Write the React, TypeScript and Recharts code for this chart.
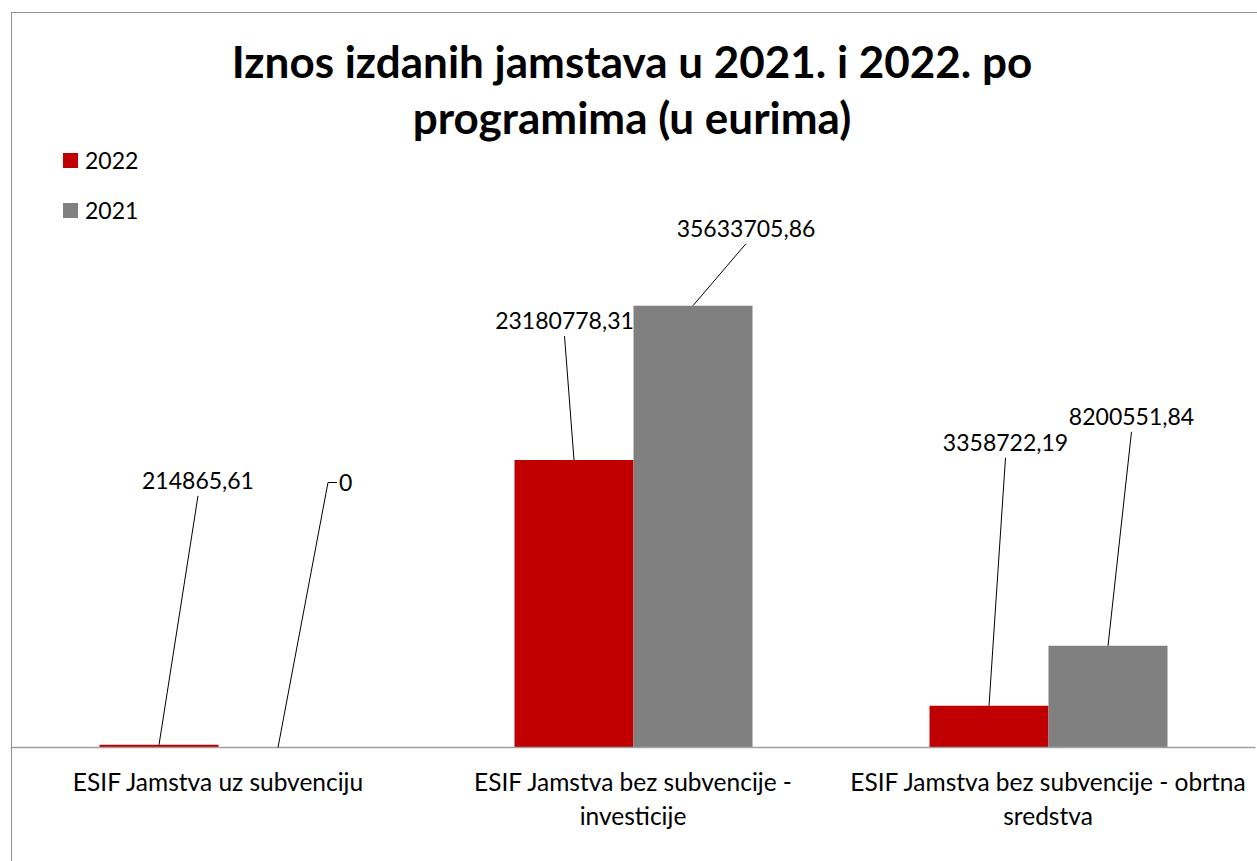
import React from 'react';
import { BarChart, Bar, XAxis, YAxis, LabelList, Legend } from 'recharts';

// ---- data ----
const categories = [
  'ESIF Jamstva uz subvenciju',
  'ESIF Jamstva bez subvencije - investicije',
  'ESIF Jamstva bez subvencije - obrtna sredstva',
];
const values2022 = [214865.61, 23180778.31, 3358722.19];
const values2021 = [0, 35633705.86, 8200551.84];
const seriesNames = ['2022', '2021'];
const yDomain = [0, 40000000];
const titleLines = ['Iznos izdanih jamstava u 2021. i 2022. po', 'programima (u eurima)'];

const data = categories.map((c, i) => ({
  category: c,
  v2022: values2022[i],
  v2021: values2021[i],
}));

// ---- layout / style (not data) ----
const FONT = 'Lato, "Open Sans", sans-serif';
const RED = '#c00000';
const GRAY = '#808080';
const W = 1257;
const H = 861;
const LABEL_SIZE = 23;
const CAT_SIZE = 24.5;

type LabelPlace = { dx: number; dy: number; anchor: 'middle' | 'start' };
const labelPlace2022: LabelPlace[] = [
  { dx: 39, dy: -264, anchor: 'middle' },
  { dx: -9.5, dy: -139, anchor: 'middle' },
  { dx: 16.5, dy: -263, anchor: 'middle' },
];
const labelPlace2021: LabelPlace[] = [
  { dx: 61, dy: -265, anchor: 'start' },
  { dx: 53, dy: -77, anchor: 'middle' },
  { dx: 23.5, dy: -229, anchor: 'middle' },
];

const fmt = (v: number) =>
  Number.isInteger(v) ? String(v) : v.toFixed(2).replace('.', ',');

const drawLabel = (cx: number, top: number, p: LabelPlace, value: number, key: string) => {
  const ly = top + p.dy;
  const tx = cx + p.dx;
  if (p.anchor === 'start') {
    return (
      <g key={key}>
        <polyline
          points={`${cx},${top} ${tx - 11},${ly} ${tx - 2},${ly}`}
          fill="none"
          stroke="#000"
          strokeWidth={1}
        />
        <text x={tx} y={ly} dy="0.36em" textAnchor="start" fontFamily={FONT} fontSize={LABEL_SIZE} fill="#000">
          {fmt(value)}
        </text>
      </g>
    );
  }
  return (
    <g key={key}>
      <line x1={cx} y1={top} x2={tx} y2={ly + 15} stroke="#000" strokeWidth={1} />
      <text x={tx} y={ly} dy="0.36em" textAnchor="middle" fontFamily={FONT} fontSize={LABEL_SIZE} fill="#000">
        {fmt(value)}
      </text>
    </g>
  );
};

// 2022 labels (also draws the label of a zero-height 2021 bar, which the library skips)
const label2022 = (props: any) => {
  const { x, y, width, value } = props;
  const i = values2022.indexOf(Number(value));
  if (i < 0) return null;
  const w = Number(width);
  const cx = Number(x) + w / 2;
  const top = Number(y);
  const base = top + Number(props.height);
  const out = [drawLabel(cx, top, labelPlace2022[i], Number(value), 'a')];
  if (values2021[i] === 0) {
    out.push(drawLabel(cx + w, base, labelPlace2021[i], 0, 'b'));
  }
  return <g>{out}</g>;
};

const label2021 = (props: any) => {
  const { x, y, width, value } = props;
  const v = Number(value);
  if (v === 0) return null;
  const i = values2021.indexOf(v);
  if (i < 0) return null;
  return drawLabel(Number(x) + Number(width) / 2, Number(y), labelPlace2021[i], v, 'c');
};

let measureCtx: CanvasRenderingContext2D | null = null;
const measure = (s: string, font: string) => {
  if (!measureCtx) measureCtx = document.createElement('canvas').getContext('2d');
  if (!measureCtx) return s.length * 11;
  measureCtx.font = font;
  return measureCtx.measureText(s).width;
};
const wrap = (s: string, maxW: number, font: string) => {
  const words = s.split(' ');
  const lines: string[] = [];
  let cur = '';
  for (const w of words) {
    const t = cur ? cur + ' ' + w : w;
    if (cur && measure(t, font) > maxW) {
      lines.push(cur);
      cur = w;
    } else cur = t;
  }
  if (cur) lines.push(cur);
  return lines;
};

const CategoryTick = (props: any) => {
  const { x, y, payload } = props;
  const lines = wrap(String(payload.value), 415, `${CAT_SIZE}px Lato`);
  return (
    <text x={x} y={Number(y) + 43.5} textAnchor="middle" fontFamily={FONT} fontSize={CAT_SIZE} fill="#000">
      {lines.map((l, i) => (
        <tspan key={i} x={x} dy={i === 0 ? 0 : 34}>
          {l}
        </tspan>
      ))}
    </text>
  );
};

const LegendContent = (props: any) => {
  const items = [...(props.payload || [])].sort(
    (a: any, b: any) => seriesNames.indexOf(a.value) - seriesNames.indexOf(b.value)
  );
  return (
    <div style={{ fontFamily: FONT, fontSize: LABEL_SIZE, color: '#000' }}>
      {items.map((it: any, i: number) => (
        <div key={i} style={{ display: 'flex', alignItems: 'center', height: 50 }}>
          <span style={{ display: 'inline-block', width: 15, height: 15, background: it.color, marginRight: 7 }} />
          <span>{it.value}</span>
        </div>
      ))}
    </div>
  );
};

export default function App() {
  return (
    <div style={{ position: 'absolute', left: 0, top: 0, width: W, height: H, overflow: 'hidden', background: '#fff' }}>
      <div
        style={{
          position: 'absolute',
          left: 10.5,
          top: 11.5,
          width: 2000,
          height: 2000,
          borderLeft: '1.5px solid #8f8f8f',
          borderTop: '1.5px solid #8f8f8f',
        }}
      />
      <svg width={W} height={H} style={{ position: 'absolute', left: 0, top: 0 }}>
        {titleLines.map((t, i) => (
          <text
            key={i}
            x={632}
            y={77.5 + i * 56}
            textAnchor="middle"
            fontFamily={FONT}
            fontWeight={700}
            fontSize={44}
            fill="#000"
          >
            {t}
          </text>
        ))}
      </svg>
      <div style={{ position: 'absolute', left: 0, top: 0 }}>
        <BarChart
          width={W}
          height={H}
          data={data}
          margin={{ top: 251.5, right: 1.5, bottom: 0, left: 10.5 }}
          barCategoryGap={89}
          barGap={0}
        >
          <XAxis
            dataKey="category"
            height={113.5}
            axisLine={{ stroke: '#a0a0a0', strokeWidth: 1.5 }}
            tickLine={false}
            tickSize={0}
            tickMargin={0}
            interval={0}
            tick={<CategoryTick />}
          />
          <YAxis hide domain={yDomain} width={0} />
          <Legend
            layout="vertical"
            align="center"
            verticalAlign="middle"
            wrapperStyle={{ left: 63, top: 135, width: 120 }}
            content={<LegendContent />}
          />
          <Bar dataKey="v2022" name={seriesNames[0]} fill={RED} isAnimationActive={false}>
            <LabelList dataKey="v2022" content={label2022} />
          </Bar>
          <Bar dataKey="v2021" name={seriesNames[1]} fill={GRAY} isAnimationActive={false}>
            <LabelList dataKey="v2021" content={label2021} />
          </Bar>
        </BarChart>
      </div>
    </div>
  );
}
